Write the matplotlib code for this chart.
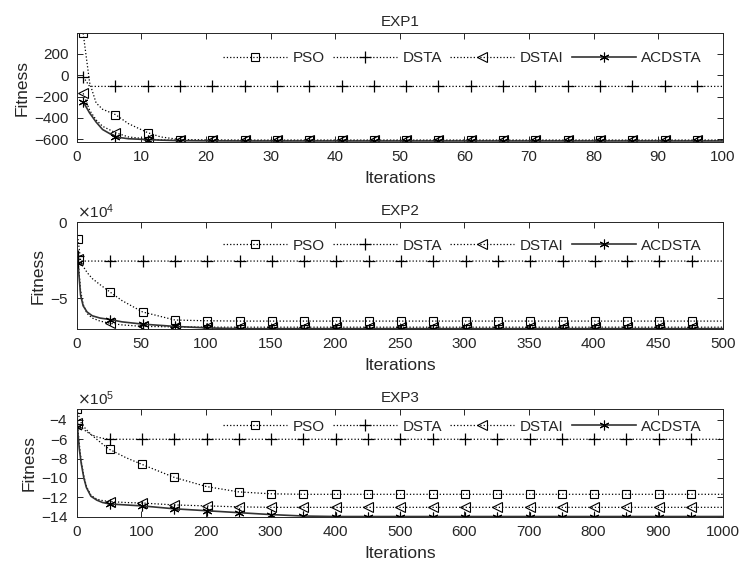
import numpy as np
import matplotlib
matplotlib.use("Agg")
from matplotlib import pyplot as plt

plt.rcParams['font.family'] = ['Liberation Sans', 'DejaVu Sans']

names = ["PSO", "DSTA", "DSTAI", "ACDSTA"]

# EXP1: iterations, markers every 5 iterations from 1
it1 = [1, 2, 3, 4, 6, 8, 11, 13, 16, 21, 26, 31, 36, 41, 46, 51, 56, 61, 66, 71, 76, 81, 86, 91, 96, 100]
pso1 = [394, -70, -260, -320, -370, -455, -540, -580, -605, -608, -610, -610, -610, -610, -610, -610, -610,
        -610, -610, -610, -610, -610, -610, -610, -610, -610]
dsta1 = [-15, -105, -105, -105, -105, -105, -105, -105, -105, -105, -105, -105, -105, -105, -105, -105, -105,
         -105, -105, -105, -105, -105, -105, -105, -105, -105]
dstai1 = [-170, -330, -420, -480, -540, -580, -600, -608, -612, -613, -613, -613, -613, -613, -613, -613, -613,
          -613, -613, -613, -613, -613, -613, -613, -613, -613]
acd1 = [-250, -355, -440, -510, -580, -597, -605, -610, -615, -617, -618, -618, -618, -618, -618, -618, -618,
        -618, -618, -618, -618, -618, -618, -618, -618, -618]

# EXP2: markers every 25 iterations from 1
it2 = [1, 3, 5, 8, 12, 18, 26, 35, 51, 76, 101, 126, 151, 176, 201, 226, 251, 276, 301, 326, 351, 376, 401,
       426, 451, 476, 500]
pso2 = [-1.1e4, -2.5e4, -2.9e4, -3.3e4, -3.7e4, -4.1e4, -4.6e4, -5.15e4, -5.9e4, -6.43e4, -6.48e4, -6.5e4,
        -6.5e4, -6.5e4, -6.5e4, -6.5e4, -6.5e4, -6.5e4, -6.5e4, -6.5e4, -6.5e4, -6.5e4, -6.5e4, -6.5e4,
        -6.5e4, -6.5e4, -6.5e4]
dsta2 = [-2.2e4, -2.55e4, -2.55e4, -2.55e4, -2.55e4, -2.55e4, -2.55e4, -2.55e4, -2.55e4, -2.55e4, -2.55e4,
         -2.55e4, -2.55e4, -2.55e4, -2.55e4, -2.55e4, -2.55e4, -2.55e4, -2.55e4, -2.55e4, -2.55e4, -2.55e4,
         -2.55e4, -2.55e4, -2.55e4, -2.55e4, -2.55e4]
dstai2 = [-2.4e4, -4.5e4, -5.4e4, -6.0e4, -6.3e4, -6.5e4, -6.65e4, -6.75e4, -6.85e4, -6.88e4, -6.9e4, -6.9e4,
          -6.9e4, -6.9e4, -6.9e4, -6.9e4, -6.9e4, -6.9e4, -6.9e4, -6.9e4, -6.9e4, -6.9e4, -6.9e4, -6.9e4,
          -6.9e4, -6.9e4, -6.9e4]
acd2 = [-2.7e4, -4.8e4, -5.5e4, -5.9e4, -6.15e4, -6.3e4, -6.4e4, -6.55e4, -6.7e4, -6.85e4, -6.95e4, -7.0e4,
        -7.0e4, -7.0e4, -7.0e4, -7.0e4, -7.0e4, -7.0e4, -7.0e4, -7.0e4, -7.0e4, -7.0e4, -7.0e4, -7.0e4,
        -7.0e4, -7.0e4, -7.0e4]

# EXP3: markers every 50 iterations from 1
it3 = [1, 4, 7, 11, 15, 22, 31, 40, 51, 76, 101, 151, 201, 251, 301, 351, 401, 451, 501, 551, 601, 651, 701,
       751, 801, 851, 901, 951, 1000]
pso3 = [-2.9e5, -3.8e5, -4.3e5, -4.7e5, -5.0e5, -5.5e5, -6.0e5, -6.5e5, -7.05e5, -7.9e5, -8.6e5, -9.95e5,
        -10.9e5, -11.45e5, -11.65e5, -11.7e5, -11.7e5, -11.7e5, -11.7e5, -11.7e5, -11.7e5, -11.7e5, -11.7e5,
        -11.7e5, -11.7e5, -11.7e5, -11.7e5, -11.7e5, -11.7e5]
dsta3 = [-4.4e5, -4.6e5, -4.8e5, -5.0e5, -5.2e5, -5.5e5, -5.75e5, -5.9e5, -6.0e5, -6.0e5, -6.0e5, -6.0e5,
         -6.0e5, -6.0e5, -6.0e5, -6.0e5, -6.0e5, -6.0e5, -6.0e5, -6.0e5, -6.0e5, -6.0e5, -6.0e5, -6.0e5,
         -6.0e5, -6.0e5, -6.0e5, -6.0e5, -6.0e5]
dstai3 = [-4.3e5, -6.5e5, -8.3e5, -9.8e5, -10.9e5, -11.8e5, -12.2e5, -12.35e5, -12.45e5, -12.55e5, -12.6e5,
          -12.8e5, -12.9e5, -13.0e5, -13.05e5, -13.05e5, -13.05e5, -13.05e5, -13.05e5, -13.05e5, -13.05e5,
          -13.05e5, -13.05e5, -13.05e5, -13.05e5, -13.05e5, -13.05e5, -13.05e5, -13.05e5]
acd3 = [-4.7e5, -7.0e5, -8.5e5, -10.0e5, -11.0e5, -11.9e5, -12.3e5, -12.55e5, -12.7e5, -12.8e5, -12.9e5,
        -13.2e5, -13.4e5, -13.6e5, -13.8e5, -13.95e5, -14.0e5, -14.0e5, -14.0e5, -14.0e5, -14.0e5, -14.0e5,
        -14.0e5, -14.0e5, -14.0e5, -14.0e5, -14.0e5, -14.0e5, -14.0e5]

exps = [
    ("EXP1", it1, [pso1, dsta1, dstai1, acd1], 5, 100, np.arange(0, 101, 10), (-625, 394),
     [-600, -400, -200, 0, 200], None, 0.77),
    ("EXP2", it2, [pso2, dsta2, dstai2, acd2], 25, 500, np.arange(0, 501, 50), (-7.02e4, 0),
     [-5e4, 0], 4, 0.78),
    ("EXP3", it3, [pso3, dsta3, dstai3, acd3], 50, 1000, np.arange(0, 1001, 100), (-14.02e5, -2.9e5),
     [-14e5, -12e5, -10e5, -8e5, -6e5, -4e5], 5, 0.84),
]

styles = [
    dict(ls=':', color='k', lw=0.9, marker='s', ms=6, mfc='none', mec='k', mew=0.8),
    dict(ls=':', color='k', lw=0.9, marker='+', ms=9, mec='k', mew=0.9),
    dict(ls=':', color='k', lw=0.9, marker='<', ms=7, mfc='none', mec='k', mew=0.8),
    dict(ls='-', color='#333333', lw=1.2, marker=(6, 2, 0), ms=7, mec='k', mew=0.8),
]

grey = '#262626'
fig = plt.figure(figsize=(7.42, 5.68), dpi=100)
boxes = [[0.1034, 0.7505, 0.8706, 0.1908],
         [0.1034, 0.4208, 0.8706, 0.1878],
         [0.1034, 0.0903, 0.8706, 0.1890]]

for box, (title, it, series, step, xmax, xt, ylim, yt, order, legy) in zip(boxes, exps):
    ax = fig.add_axes(box)
    it = np.array(it)
    marks = [i for i, v in enumerate(it) if (v - 1) % step == 0 and v < xmax]
    for name, vals, st in zip(names, series, styles):
        ax.plot(it, vals, label=name, markevery=marks, **st)
    ax.set_xlim(0, xmax)
    ax.set_ylim(*ylim)
    ax.set_xticks(xt)
    ax.set_yticks(yt)
    if order is not None:
        ax.ticklabel_format(axis='y', style='sci', scilimits=(order, order), useMathText=True)
        ax.yaxis.get_offset_text().set_fontsize(11)
        ax.yaxis.get_offset_text().set_color(grey)
    ax.tick_params(direction='in', top=True, right=True, length=4, width=0.7,
                   labelsize=11, colors=grey, pad=6)
    for sp in ax.spines.values():
        sp.set_color(grey)
        sp.set_linewidth(0.7)
    ax.set_title(title, fontsize=11, color=grey, pad=5)
    ax.set_xlabel("Iterations", fontsize=12.5, color=grey, labelpad=5)
    ax.set_ylabel("Fitness", fontsize=12.5, color=grey, labelpad=3)
    ax.legend(loc='center right', bbox_to_anchor=(0.968, legy), ncol=4, frameon=False,
              fontsize=11, handlelength=4.2, handletextpad=0.35, columnspacing=0.55,
              borderpad=0, borderaxespad=0, numpoints=1, labelcolor=grey)

fig.savefig("out.png", dpi=100)
